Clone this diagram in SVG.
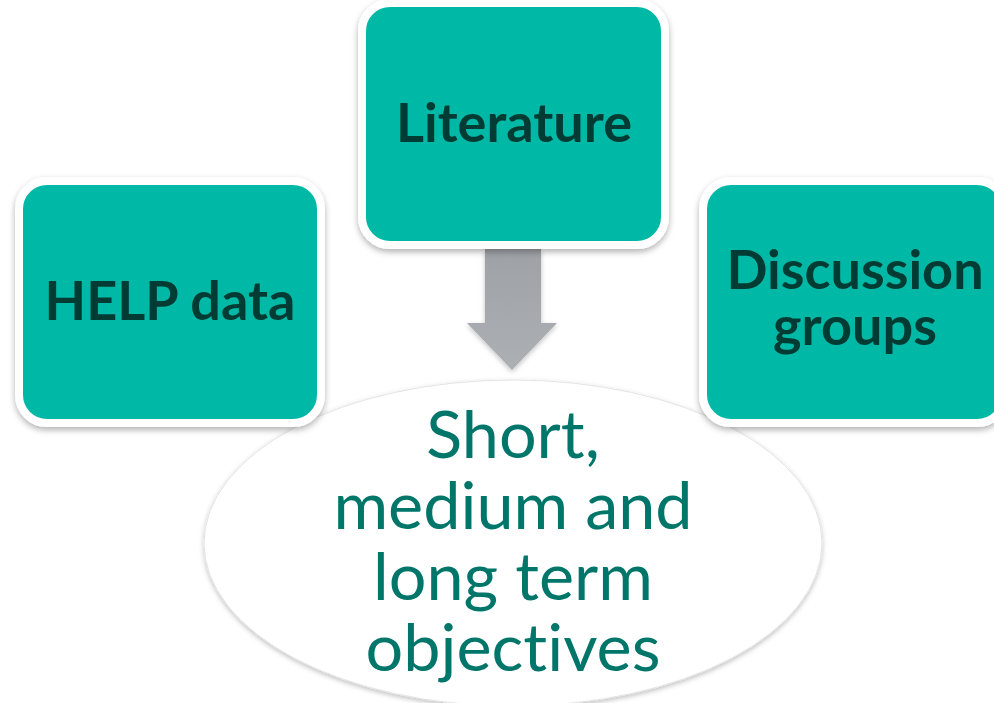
<svg xmlns="http://www.w3.org/2000/svg" width="994" height="703" viewBox="0 0 994 703">
<defs>
<filter id="sh" x="-10%" y="-10%" width="130%" height="130%">
<feDropShadow dx="0" dy="3" stdDeviation="3" flood-color="#000" flood-opacity="0.3"/>
</filter>
<filter id="esh" x="-5%" y="-5%" width="110%" height="115%">
<feDropShadow dx="0" dy="2" stdDeviation="2.5" flood-color="#000" flood-opacity="0.25"/>
</filter>
<linearGradient id="ag" x1="0" y1="0" x2="0" y2="1">
<stop offset="0" stop-color="#9EA1A6"/>
<stop offset="1" stop-color="#ACAFB3"/>
</linearGradient>
</defs>
<style>
.box{fill:#00B8A6;stroke:#FFFFFF;stroke-width:8}
.bt{font-family:Lato,"Liberation Sans",sans-serif;font-weight:bold;font-size:54px;fill:#003B34;text-anchor:middle;font-variant-ligatures:none}
.et{font-family:Lato,"Liberation Sans",sans-serif;font-size:66.5px;fill:#00766A;text-anchor:middle;font-variant-ligatures:none}
</style>
<rect width="994" height="703" fill="#FFFFFF"/>
<g id="objectives">
<ellipse cx="513" cy="543" rx="309" ry="163" fill="#FFFFFF" stroke="#E4E4E4" stroke-width="1" filter="url(#esh)"/>
<text class="et" x="513" y="458">Short,</text>
<text class="et" x="513" y="529">medium and</text>
<text class="et" x="513" y="600">long term</text>
<text class="et" x="513" y="671">objectives</text>
</g>
<g id="connectors">
<path d="M485,249 L541,249 L541,323 L557,323 L512,370 L467,323 L485,323 Z" fill="url(#ag)" filter="url(#esh)"/>
</g>
<g id="help">
<rect class="box" x="19" y="181" width="302" height="242" rx="28" filter="url(#sh)"/>
<text class="bt" x="170" y="320">HELP data</text>
</g>
<g id="literature">
<rect class="box" x="362" y="3" width="303" height="242" rx="28" filter="url(#sh)"/>
<text class="bt" x="514" y="142">Literature</text>
</g>
<g id="discussion">
<rect class="box" x="703" y="181" width="302" height="242" rx="28" filter="url(#sh)"/>
<text class="bt" x="855" y="289">Discussion</text>
<text class="bt" x="855" y="345">groups</text>
</g>
</svg>
